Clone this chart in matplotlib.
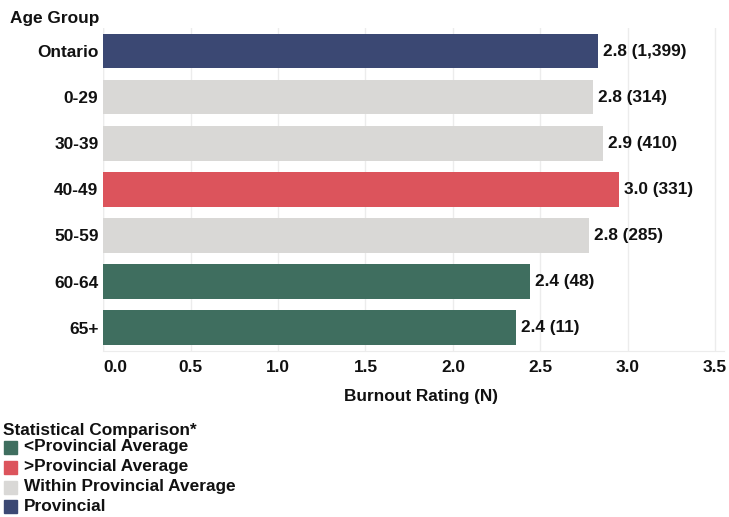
import matplotlib
matplotlib.use("Agg")
import matplotlib.pyplot as plt
from matplotlib.patches import Rectangle

plt.rcParams["font.family"] = ["Liberation Sans", "DejaVu Sans"]
plt.rcParams["font.weight"] = "bold"

# Burnout rating by age group
groups = ["Ontario", "0-29", "30-39", "40-49", "50-59", "60-64", "65+"]
ratings = [2.83, 2.80, 2.86, 2.95, 2.78, 2.44, 2.36]
counts = [1399, 314, 410, 331, 285, 48, 11]
comparison = ["Provincial", "Within Provincial Average", "Within Provincial Average",
              ">Provincial Average", "Within Provincial Average",
              "<Provincial Average", "<Provincial Average"]

legend_order = ["<Provincial Average", ">Provincial Average",
                "Within Provincial Average", "Provincial"]
palette = {
    "<Provincial Average": "#3f6e5f",
    ">Provincial Average": "#dc545c",
    "Within Provincial Average": "#d9d8d6",
    "Provincial": "#3b4873",
}
x_ticks = [0.0, 0.5, 1.0, 1.5, 2.0, 2.5, 3.0, 3.5]

FS = 12.4
W, H = 729, 517
fig = plt.figure(figsize=(W / 100, H / 100), dpi=100)
ax_left, ax_right, ax_top, ax_bottom = 103.3, 723.8, 28.0, 350.7
ax = fig.add_axes([ax_left / W, 1 - ax_bottom / H,
                   (ax_right - ax_left) / W, (ax_bottom - ax_top) / H])

ypos = list(range(len(groups)))
colors = [palette[c] for c in comparison]
ax.barh(ypos, ratings, height=0.75, color=colors, zorder=3)

for y, r, n in zip(ypos, ratings, counts):
    ax.annotate(f"{r:.1f} ({n:,})", xy=(r, y), xytext=(3.6, 0),
                textcoords="offset points", va="center", ha="left",
                fontsize=FS, fontweight="bold", color="#111111")

ax.set_xlim(0, 3.55)
ax.set_ylim(len(groups) - 0.5, -0.5)
ax.set_yticks(ypos)
ax.set_yticklabels(groups, fontsize=FS, fontweight="bold")
ax.set_xticks(x_ticks)
ax.set_xticklabels([f"{t:.1f}" for t in x_ticks], fontsize=FS, fontweight="bold")
ax.get_xticklabels()[0].set_horizontalalignment("left")
ax.tick_params(axis="both", length=0, colors="#111111")
ax.tick_params(axis="x", pad=7)
ax.tick_params(axis="y", pad=3.5)

ax.grid(axis="x", color="#ececec", linewidth=1, zorder=0)
for s in ["top", "right", "left"]:
    ax.spines[s].set_visible(False)
ax.spines["bottom"].set_color("#ececec")
ax.axvline(0, color="#ececec", linewidth=1, zorder=1)

ax.set_xlabel("Burnout Rating (N)", fontsize=FS, fontweight="bold", color="#111111")
ax.xaxis.set_label_coords(0.512, -0.12)

fig.text(99 / W, 1 - 18 / H, "Age Group", ha="right", va="center",
         fontsize=FS, fontweight="bold", color="#111111")

# Legend for the statistical comparison colours
fig.text(3 / W, 1 - 430.5 / H, "Statistical Comparison*", ha="left", va="center",
         fontsize=FS, fontweight="bold", color="#111111")
item_y = [447, 467, 487, 506.5]
for label, yc in zip(legend_order, item_y):
    fig.add_artist(Rectangle((3.5 / W, 1 - (yc + 6.5) / H), 13 / W, 13 / H,
                             transform=fig.transFigure, color=palette[label]))
    fig.text(24 / W, 1 - yc / H, label, ha="left", va="center",
             fontsize=FS, fontweight="bold", color="#111111")

fig.savefig("out.png", dpi=100)
